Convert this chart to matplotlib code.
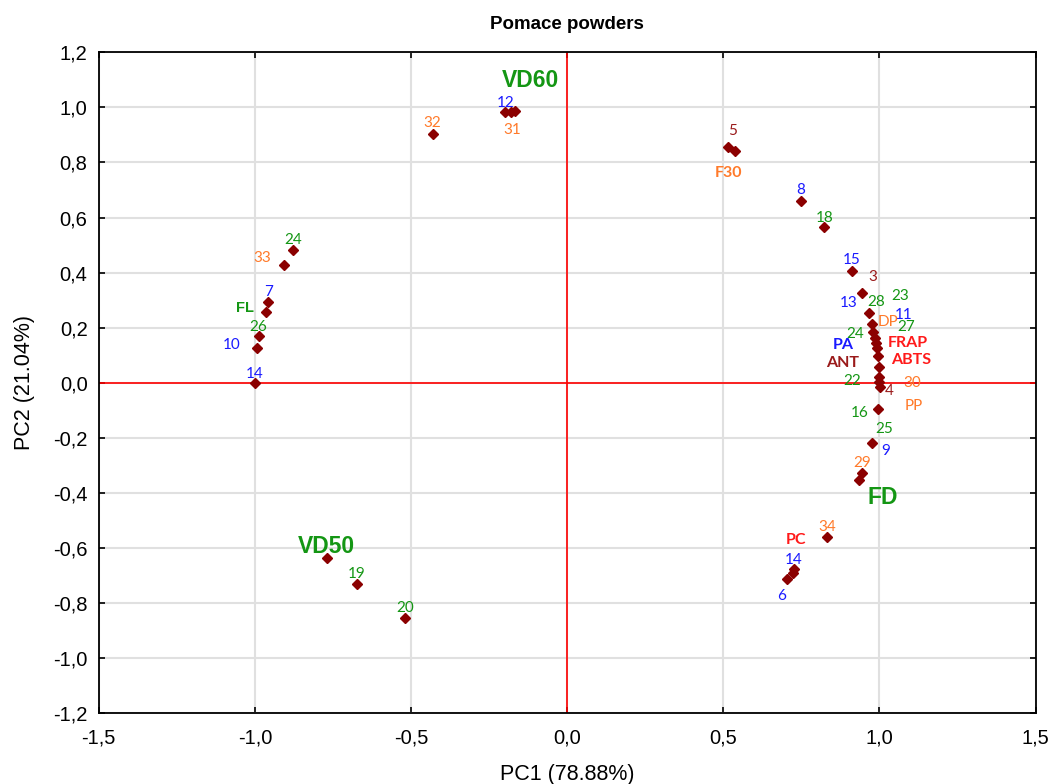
import matplotlib
matplotlib.use("Agg")
import matplotlib.pyplot as plt
from matplotlib.ticker import FuncFormatter, MultipleLocator

# point coordinates (PC1, PC2)
pc1 = [0.911, 0.945, 0.967, 0.975, 0.980, 0.986, 0.989, 0.991, 0.994, 0.998,
       0.999, 0.999, 1.002, 0.996, 0.975, 0.945, 0.935,
       0.514, 0.537, 0.749, 0.823,
       -0.199, -0.180, -0.167, -0.431,
       -0.879, -0.906, -0.957, -0.965, -0.986, -0.992, -1.000,
       0.833, 0.727, 0.722, 0.703,
       -0.770, -0.672, -0.519]
pc2 = [0.407, 0.325, 0.255, 0.214, 0.186, 0.162, 0.143, 0.125, 0.097, 0.058,
       0.022, 0.004, -0.014, -0.096, -0.220, -0.326, -0.353,
       0.857, 0.842, 0.661, 0.565,
       0.982, 0.984, 0.987, 0.903,
       0.482, 0.428, 0.294, 0.258, 0.170, 0.127, -0.002,
       -0.559, -0.677, -0.690, -0.712,
       -0.635, -0.732, -0.853]

# labels: text, x, y, colour key, style key
labels = [
    ("VD60", -0.116, 1.096, "g", "big"), ("12", -0.196, 1.016, "b", "n"),
    ("31", -0.177, 0.918, "o", "n"), ("32", -0.433, 0.943, "o", "n"),
    ("5", 0.531, 0.914, "dr", "n"), ("F30", 0.518, 0.762, "o", "bold"),
    ("8", 0.749, 0.700, "b", "n"), ("18", 0.825, 0.598, "g", "n"),
    ("15", 0.912, 0.446, "b", "n"), ("3", 0.979, 0.384, "dr", "n"),
    ("13", 0.902, 0.290, "b", "n"), ("28", 0.988, 0.294, "g", "n"),
    ("23", 1.065, 0.315, "g", "n"), ("11", 1.078, 0.246, "b", "n"),
    ("DP", 1.027, 0.221, "o", "n"), ("27", 1.085, 0.203, "g", "n"),
    ("24", 0.922, 0.177, "g", "n"), ("PA", 0.883, 0.137, "b", "bold"),
    ("FRAP", 1.091, 0.145, "r", "bold"), ("ANT", 0.883, 0.072, "dr", "bold"),
    ("ABTS", 1.101, 0.083, "r", "bold"), ("22", 0.912, 0.007, "g", "n"),
    ("30", 1.104, -0.001, "o", "n"), ("4", 1.030, -0.030, "dr", "n"),
    ("PP", 1.110, -0.084, "o", "n"), ("16", 0.938, -0.110, "g", "n"),
    ("25", 1.014, -0.167, "g", "n"), ("9", 1.021, -0.247, "b", "n"),
    ("29", 0.944, -0.290, "o", "n"), ("FD", 1.011, -0.415, "g", "big"),
    ("34", 0.832, -0.524, "o", "n"), ("PC", 0.733, -0.571, "r", "bold"),
    ("14", 0.726, -0.644, "b", "n"), ("6", 0.688, -0.775, "b", "n"),
    ("VD50", -0.772, -0.594, "g", "big"), ("19", -0.673, -0.694, "g", "n"),
    ("20", -0.519, -0.818, "g", "n"), ("24", -0.878, 0.518, "g", "n"),
    ("33", -0.977, 0.453, "o", "n"), ("7", -0.957, 0.330, "b", "n"),
    ("FL", -1.032, 0.272, "g", "mid"), ("26", -0.988, 0.203, "g", "n"),
    ("10", -1.073, 0.137, "b", "n"), ("14", -0.999, 0.032, "b", "n"),
]

colors = {"g": "#149614", "b": "#1a1aff", "o": "#ff7a2a", "dr": "#9a1a1a", "r": "#ff1a1a"}
styles = {
    "n": dict(fontsize=11, family="Lato"),
    "bold": dict(fontsize=11.5, family="Lato", fontweight="bold"),
    "mid": dict(fontsize=10.5, family="Liberation Sans", fontweight="bold"),
    "big": dict(fontsize=16.5, family="Liberation Sans", fontweight="bold"),
}

plt.rcParams["font.family"] = ["Liberation Sans", "DejaVu Sans"]

fig = plt.figure(figsize=(10.54, 7.84), dpi=100)
ax = fig.add_axes([0.0936, 0.0902, 0.889, 0.8431])

ax.set_xlim(-1.5, 1.5)
ax.set_ylim(-1.2, 1.2)
ax.xaxis.set_major_locator(MultipleLocator(0.5))
ax.yaxis.set_major_locator(MultipleLocator(0.2))
fmt = FuncFormatter(lambda v, p: f"{v:.1f}".replace(".", ","))
ax.xaxis.set_major_formatter(fmt)
ax.yaxis.set_major_formatter(fmt)
ax.grid(True, color="#e0e0e0", linewidth=1.5)
ax.set_axisbelow(True)
ax.tick_params(direction="in", length=4, width=1.2, labelsize=14.5,
               top=True, right=True)
ax.tick_params(axis="x", pad=11)
ax.tick_params(axis="y", pad=8)
for s in ax.spines.values():
    s.set_linewidth(1.3)

ax.axhline(0, color="red", linewidth=1.2, zorder=2)
ax.axvline(0, color="red", linewidth=1.2, zorder=2)

ax.plot(pc1, pc2, linestyle="none", marker="D", markersize=5.5,
        color="#8b0000", zorder=3)

for txt, x, y, c, st in labels:
    ax.text(x, y, txt, color=colors[c], ha="center", va="center", zorder=4, **styles[st])

ax.set_title("Pomace powders", fontsize=13.5, fontweight="bold", pad=17)
ax.set_xlabel("PC1 (78.88%)", fontsize=15.5, labelpad=12)
ax.set_ylabel("PC2 (21.04%)", fontsize=15.5, labelpad=13)

fig.savefig("out.png", dpi=100)
